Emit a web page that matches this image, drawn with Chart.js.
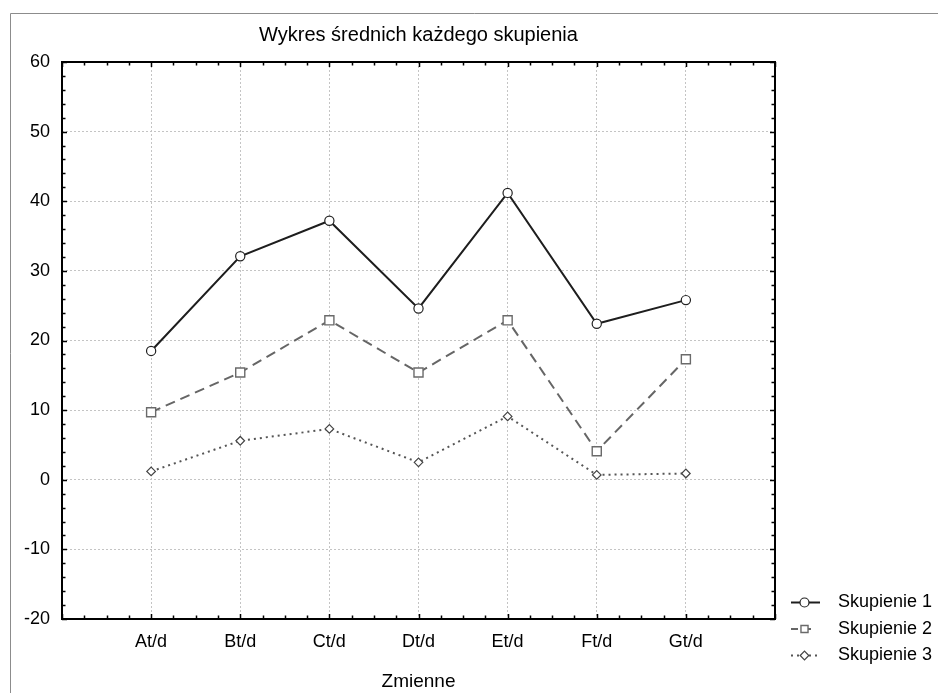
<!DOCTYPE html>
<html><head><meta charset="utf-8">
<script src="https://cdn.jsdelivr.net/npm/chart.js@4/dist/chart.umd.min.js"></script>
<style>html,body{margin:0;padding:0;background:#fff;overflow:hidden}canvas{display:block}</style>
</head><body>
<canvas id="c" width="938" height="693"></canvas>
<script>
// ---- data ----
const categories = ['At/d', 'Bt/d', 'Ct/d', 'Dt/d', 'Et/d', 'Ft/d', 'Gt/d'];
const seriesNames = ['Skupienie 1', 'Skupienie 2', 'Skupienie 3'];
const skupienie1 = [18.5, 32.1, 37.2, 24.6, 41.2, 22.4, 25.8];
const skupienie2 = [9.7, 15.4, 22.9, 15.4, 22.9, 4.1, 17.3];
const skupienie3 = [1.2, 5.6, 7.3, 2.5, 9.1, 0.7, 0.9];
const yMin = -20, yMax = 60, yStep = 10, yMinorStep = 2;
const chartTitle = 'Wykres średnich każdego skupienia';
const xAxisTitle = 'Zmienne';

// padded category axis: one empty slot on each side
const xLabels = [''].concat(categories, ['']);
const pad = v => [null].concat(v, [null]);

Chart.defaults.font.family = "'Liberation Sans', Arial, sans-serif";
Chart.defaults.color = '#000';

const framePlugin = {
  id: 'frame',
  beforeDraw(chart) {
    const ctx = chart.ctx;
    ctx.save();
    ctx.fillStyle = '#fff';
    ctx.fillRect(0, 0, chart.width, chart.height);
    ctx.strokeStyle = '#8c8c8c';
    ctx.lineWidth = 1;
    ctx.beginPath();
    ctx.moveTo(10.5, chart.height);
    ctx.lineTo(10.5, 13.5);
    ctx.lineTo(chart.width, 13.5);
    ctx.stroke();
    ctx.restore();
  }
};

const axesBoxPlugin = {
  id: 'axesBox',
  afterDatasetsDraw(chart) {
    const ctx = chart.ctx, a = chart.chartArea;
    const xs = chart.scales.x, ys = chart.scales.y;
    ctx.save();
    ctx.strokeStyle = '#000';
    ctx.lineWidth = 2;
    ctx.strokeRect(a.left, a.top, a.right - a.left, a.bottom - a.top);
    ctx.lineWidth = 1.5;
    ctx.beginPath();
    const nx = (xLabels.length - 1) * 4;
    for (let i = 0; i <= nx; i++) {
      const v = i / 4;
      const px = Math.round(xs.getPixelForValue(v)) + 0.5;
      const len = (i % 4 === 0) ? 5 : 3.5;
      ctx.moveTo(px, a.bottom); ctx.lineTo(px, a.bottom - len);
      ctx.moveTo(px, a.top); ctx.lineTo(px, a.top + len);
    }
    for (let v = yMin; v <= yMax; v += yMinorStep) {
      const py = Math.round(ys.getPixelForValue(v)) + 0.5;
      const len = (v % yStep === 0) ? 5 : 3.5;
      ctx.moveTo(a.left, py); ctx.lineTo(a.left + len, py);
      ctx.moveTo(a.right, py); ctx.lineTo(a.right - len, py);
    }
    ctx.stroke();
    ctx.restore();
  }
};

const legendPlugin = {
  id: 'sideLegend',
  afterDraw(chart) {
    const ctx = chart.ctx, a = chart.chartArea;
    ctx.save();
    chart.data.datasets.forEach((ds, i) => {
      const y = a.bottom - 16.5 + i * 26.5;
      const x0 = a.right + 16, x1 = a.right + 45, xm = a.right + 29.5;
      ctx.strokeStyle = ds.borderColor;
      ctx.lineWidth = ds.borderWidth;
      ctx.setLineDash(ds.legendDash || ds.borderDash || []);
      ctx.beginPath();
      ctx.moveTo(x0, y); ctx.lineTo(x1, y);
      ctx.stroke();
      ctx.setLineDash([]);
      ctx.fillStyle = ds.pointBackgroundColor;
      ctx.strokeStyle = ds.pointBorderColor;
      ctx.lineWidth = ds.pointBorderWidth;
      Chart.helpers.drawPoint(ctx, {pointStyle: ds.pointStyle, radius: ds.legendRadius, rotation: 0, borderWidth: ds.pointBorderWidth}, xm, y);
      ctx.fillStyle = '#000';
      ctx.font = "18px 'Liberation Sans', Arial, sans-serif";
      ctx.textBaseline = 'middle';
      ctx.textAlign = 'left';
      ctx.fillText(ds.label, a.right + 63, y);
    });
    ctx.restore();
  }
};

new Chart(document.getElementById('c'), {
  type: 'line',
  data: {
    labels: xLabels,
    datasets: [
      {
        label: seriesNames[0], data: pad(skupienie1),
        borderColor: '#1e1e1e', borderWidth: 2, tension: 0,
        pointStyle: 'circle', pointRadius: 4.6, pointHoverRadius: 4.6, legendRadius: 4.5,
        pointBackgroundColor: '#fff', pointBorderColor: '#222', pointBorderWidth: 1.2
      },
      {
        label: seriesNames[1], data: pad(skupienie2),
        borderColor: '#666', borderWidth: 2, borderDash: [10, 6], legendDash: [7, 10, 3, 20], tension: 0,
        pointStyle: 'rect', pointRadius: 6.4, pointHoverRadius: 6.4, legendRadius: 5,
        pointBackgroundColor: '#fff', pointBorderColor: '#6a6a6a', pointBorderWidth: 1.4
      },
      {
        label: seriesNames[2], data: pad(skupienie3),
        borderColor: '#555', borderWidth: 2, borderDash: [2, 4], tension: 0,
        pointStyle: 'rectRot', pointRadius: 4.3, pointHoverRadius: 4.3, legendRadius: 4.3,
        pointBackgroundColor: '#fff', pointBorderColor: '#444', pointBorderWidth: 1.2
      }
    ]
  },
  options: {
    responsive: false,
    animation: false,
    devicePixelRatio: 1,
    layout: { padding: { left: 0, top: 0, right: 163, bottom: 0 } },
    plugins: {
      legend: { display: false },
      tooltip: { enabled: false },
      title: {
        display: true, text: chartTitle, fullSize: false,
        font: { size: 20, weight: 'normal' }, color: '#000',
        padding: { top: 23, bottom: 15 }
      }
    },
    scales: {
      x: {
        type: 'category', offset: false,
        grid: { color: '#c4c4c4', lineWidth: 1, drawTicks: false, tickLength: 0 },
        border: { display: false, dash: [2, 2] },
        ticks: { font: { size: 18 }, color: '#000', padding: 12, autoSkip: false, maxRotation: 0 },
        title: { display: true, text: xAxisTitle, font: { size: 19 }, color: '#000', padding: { top: 0, bottom: 0 } },
        afterFit(s) { s.height = 74; }
      },
      y: {
        type: 'linear', min: yMin, max: yMax,
        grid: { color: '#c4c4c4', lineWidth: 1, drawTicks: false, tickLength: 0 },
        border: { display: false, dash: [2, 2] },
        ticks: { stepSize: yStep, font: { size: 18 }, color: '#000', padding: 12 },
        afterFit(s) { s.width = 62; }
      }
    }
  },
  plugins: [framePlugin, axesBoxPlugin, legendPlugin]
});
</script>
</body></html>
